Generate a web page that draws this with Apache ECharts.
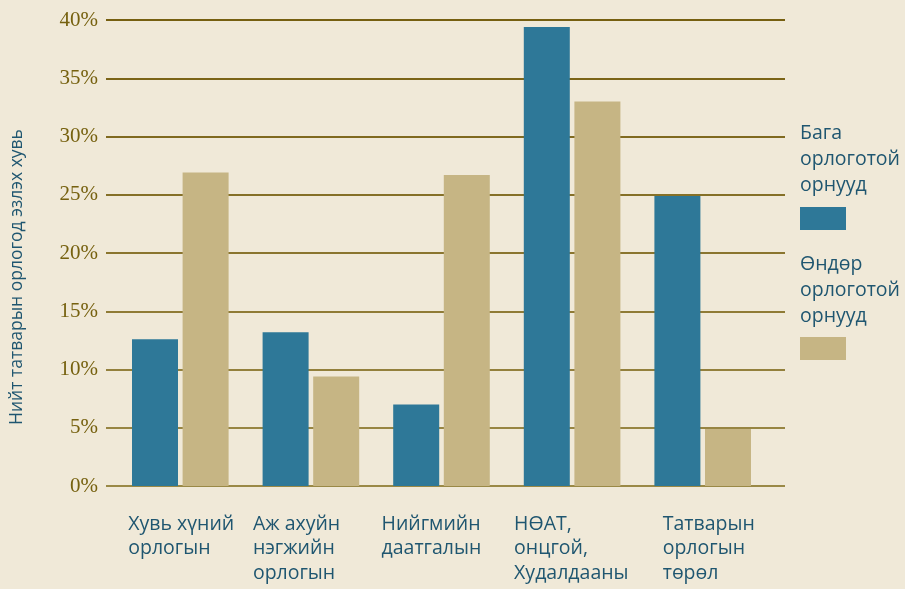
<!DOCTYPE html>
<html>
<head>
<meta charset="utf-8">
<script src="https://cdn.jsdelivr.net/npm/echarts@6/dist/echarts.min.js"></script>
<style>
  html, body { margin: 0; padding: 0; background: #f0e9d8; }
  #chart { width: 905px; height: 589px; }
</style>
</head>
<body>
<div id="chart"></div>
<script>
// data
var categories = [
  "Хувь хүний\nорлогын",
  "Аж ахуйн\nнэгжийн\nорлогын",
  "Нийгмийн\nдаатгалын",
  "НӨАТ,\nонцгой,\nХудалдааны",
  "Татварын\nорлогын\nтөрөл"
];
var seriesNames = ["Бага\nорлоготой\nорнууд", "Өндөр\nорлоготой\nорнууд"];
var lowIncome = [12.6, 13.2, 7.0, 39.4, 24.9];
var highIncome = [26.9, 9.4, 26.7, 33.0, 4.9];
var yTicks = [0, 5, 10, 15, 20, 25, 30, 35, 40];

var blue = "#2e7898";
var tan = "#c6b584";
var textBlue = "#1f5670";
var olive = "#76610f";
// label shift so text sits left-aligned under each pair
var labelShift = [-52, -58, -60, -58, -40];

var chart = echarts.init(document.getElementById("chart"));

var option = {
  backgroundColor: "#f0e9d8",
  animation: false,
  grid: [
    // grid only for the horizontal lines + y labels
    { left: 98, right: 120, top: 20, bottom: 103 },
    // grid for the bars
    { left: 115, right: 137, top: 20, bottom: 103 }
  ],
  xAxis: [
    { gridIndex: 0, type: "category", data: [], show: false },
    {
      gridIndex: 1,
      type: "category",
      data: categories.map(function (c, i) {
        return {
          value: c,
          textStyle: { align: "left", padding: [0, 0, 0, labelShift[i]] }
        };
      }),
      axisLine: { show: false },
      axisTick: { show: false },
      axisLabel: {
        interval: 0,
        margin: 26,
        align: "left",
        verticalAlign: "top",
        color: textBlue,
        fontSize: 19.5,
        lineHeight: 24.5,
        fontFamily: "Open Sans"
      }
    }
  ],
  yAxis: [
    {
      gridIndex: 0,
      type: "value",
      min: yTicks[0],
      max: yTicks[yTicks.length - 1],
      interval: 5,
      name: "Нийт татварын орлогод эзлэх хувь",
      nameLocation: "middle",
      nameRotate: 90,
      nameGap: 80,
      nameTextStyle: {
        color: textBlue,
        fontSize: 17.5,
        fontFamily: "Open Sans",
        padding: [0, 48, 0, 0]
      },
      axisLine: { show: false },
      axisTick: { show: false },
      axisLabel: {
        margin: 8,
        color: olive,
        fontSize: 21,
        fontFamily: "Liberation Serif",
        formatter: "{value}%"
      },
      splitLine: {
        lineStyle: {
          width: 2,
          color: ["#9a8946", "#978542", "#93803c", "#8f7b35", "#8a752e", "#857027", "#806a20", "#7b6418", "#765f10"]
        }
      }
    },
    {
      gridIndex: 1,
      type: "value",
      min: yTicks[0],
      max: yTicks[yTicks.length - 1],
      show: false,
      splitLine: { show: false }
    }
  ],
  series: [
    {
      name: seriesNames[0],
      type: "bar",
      xAxisIndex: 1,
      yAxisIndex: 1,
      barWidth: 46,
      barGap: "10%",
      itemStyle: { color: blue },
      data: lowIncome
    },
    {
      name: seriesNames[1],
      type: "bar",
      xAxisIndex: 1,
      yAxisIndex: 1,
      barWidth: 46,
      barGap: "10%",
      itemStyle: { color: tan },
      data: highIncome
    }
  ],
  // legend: text above a colour block
  graphic: [
    {
      type: "text", left: 800, top: 120,
      style: { text: seriesNames[0], fill: textBlue, fontSize: 19.5, lineHeight: 26, fontFamily: "Open Sans" }
    },
    { type: "rect", left: 800, top: 207, shape: { width: 46, height: 23 }, style: { fill: blue } },
    {
      type: "text", left: 800, top: 251,
      style: { text: seriesNames[1], fill: textBlue, fontSize: 19.5, lineHeight: 26, fontFamily: "Open Sans" }
    },
    { type: "rect", left: 800, top: 337, shape: { width: 46, height: 23 }, style: { fill: tan } }
  ]
};

chart.setOption(option);
</script>
</body>
</html>
